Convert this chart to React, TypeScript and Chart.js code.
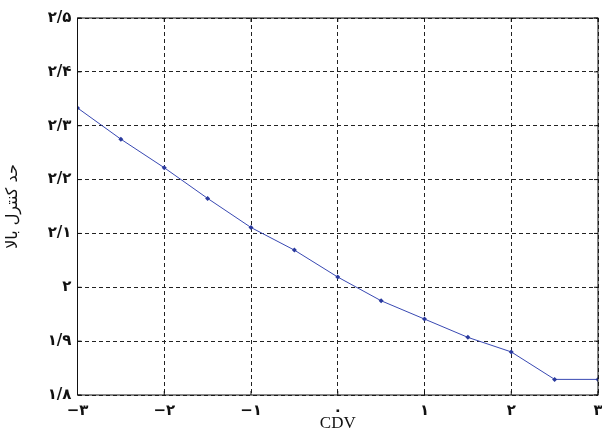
import React, { useEffect, useRef } from "react";
import { Chart, registerables } from "chart.js";

Chart.register(...registerables);

const cdvValues = [-3, -2.5, -2, -1.5, -1, -0.5, 0, 0.5, 1, 1.5, 2, 2.5, 3];
const upperLimit = [2.333, 2.275, 2.222, 2.165, 2.111, 2.069, 2.019, 1.975, 1.941, 1.907, 1.88, 1.829, 1.829];
const xTickLabels = ["\u2212۳", "\u2212۲", "\u2212۱", "۰", "۱", "۲", "۳"];
const yTickLabels = ["۱/۸", "۱/۹", "۲", "۲/۱", "۲/۲", "۲/۳", "۲/۴", "۲/۵"];
const xTitle = "CDV";
const yTitle = "حد کنترل بالا";

const framePlugin = {
  id: "frame",
  afterDraw(chart: any) {
    const { ctx, chartArea } = chart;
    const { left, right, top, bottom } = chartArea;
    ctx.save();
    ctx.strokeStyle = "#111";
    ctx.lineWidth = 1;
    ctx.setLineDash([]);
    ctx.strokeRect(left, top, right - left, bottom - top);
    const tl = 4;
    const xs = chart.scales.x;
    const ys = chart.scales.y;
    ctx.beginPath();
    xs.ticks.forEach((t: any) => {
      const px = xs.getPixelForValue(t.value);
      ctx.moveTo(px, bottom);
      ctx.lineTo(px, bottom - tl);
      ctx.moveTo(px, top);
      ctx.lineTo(px, top + tl);
    });
    ys.ticks.forEach((t: any) => {
      const py = ys.getPixelForValue(t.value);
      ctx.moveTo(left, py);
      ctx.lineTo(left + tl, py);
      ctx.moveTo(right, py);
      ctx.lineTo(right - tl, py);
    });
    ctx.stroke();
    ctx.restore();
  },
};

export default function App() {
  const ref = useRef<HTMLCanvasElement>(null);
  useEffect(() => {
    if (!ref.current) return;
    const chart = new Chart(ref.current, {
      type: "line",
      data: {
        labels: cdvValues,
        datasets: [
          {
            data: cdvValues.map((x, i) => ({ x, y: upperLimit[i] })),
            borderColor: "#3848b2",
            backgroundColor: "#2a3a9e",
            borderWidth: 1,
            pointStyle: "rectRot",
            pointRadius: 2.5,
            pointBorderWidth: 0,
            pointBackgroundColor: "#2a3a9e",
            tension: 0,
          },
        ],
      },
      options: {
        responsive: false,
        animation: false,
        plugins: { legend: { display: false }, tooltip: { enabled: false } },
        layout: { padding: { top: 18, right: 1, left: 0, bottom: 0 } },
        scales: {
          x: {
            type: "linear",
            min: -3,
            max: 3,
            ticks: {
              stepSize: 1,
              padding: 7,
              color: "#111",
              font: { family: "DejaVu Sans", size: 15, weight: "bold" },
              maxRotation: 0,
              callback: (_v: any, i: number) => xTickLabels[i],
            },
            grid: {
              color: "#222",
              lineWidth: 1,
              drawTicks: false,
            },
            border: { display: false, dash: [4, 3] },
            title: {
              display: true,
              text: xTitle,
              color: "#111",
              font: { family: "Liberation Serif", size: 17 },
              padding: { top: 0, bottom: 5 },
            },
            afterFit: (s: any) => {
              s.height = 44;
              s.paddingLeft = 0;
              s.paddingRight = 0;
            },
          },
          y: {
            min: 1.8,
            max: 2.5,
            ticks: {
              stepSize: 0.1,
              padding: 6,
              color: "#111",
              font: { family: "DejaVu Sans", size: 15, weight: "bold" },
              callback: (_v: any, i: number) => yTickLabels[i],
            },
            grid: {
              color: "#222",
              lineWidth: 1,
              drawTicks: false,
            },
            border: { display: false, dash: [4, 3] },
            title: {
              display: true,
              text: yTitle,
              color: "#111",
              font: { family: "DejaVu Sans", size: 16 },
              padding: { top: 3, bottom: 0 },
            },
            afterFit: (s: any) => {
              s.width = 77.5;
              s.paddingTop = 0;
              s.paddingBottom = 0;
            },
          },
        },
      },
      plugins: [framePlugin],
    } as any);
    return () => chart.destroy();
  }, []);
  return (
    <div style={{ position: "fixed", left: 0, top: 0, width: 602, height: 439, background: "#fff" }}>
      <canvas ref={ref} width={602} height={439} />
    </div>
  );
}
